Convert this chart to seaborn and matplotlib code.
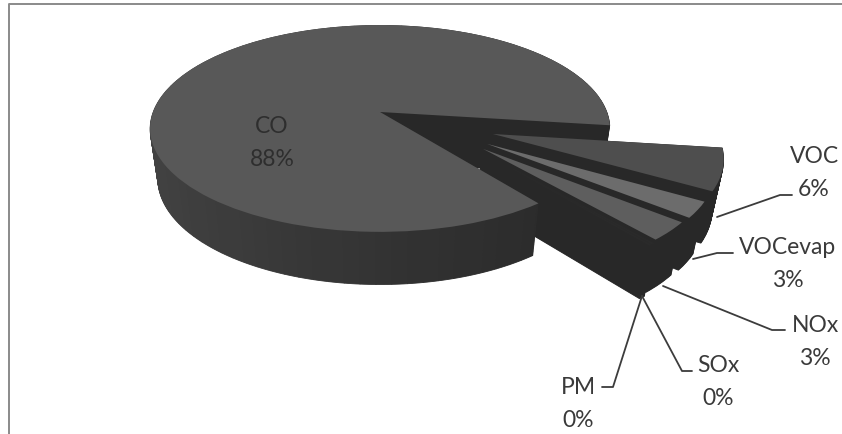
import matplotlib
matplotlib.use("Agg")
import matplotlib.pyplot as plt
import matplotlib.transforms as mtransforms
import numpy as np
import seaborn as sns

categories = ["CO", "VOC", "VOCevap", "NOx", "SOx", "PM"]
shares = [87.5, 6.49, 2.51, 3.0, 0.25, 0.25]
slice_offsets = [(0.481, -0.211), (0.449, -0.301), (0.429, -0.346),
                 (0.42, -0.37), (0.42, -0.37)]
slice_radii = [0.955, 0.935, 0.916, 0.916, 0.916]
face_colors = ["#585858", "#4e4e4e", "#6c6c6c", "#5e5e5e", "#2a2a2a", "#2a2a2a"]
side_color = "#282828"
text_color = "#3a3a3a"

# label anchors and leader lines, in picture pixels
label_pos = {"CO": (272, 143), "VOC": (814, 173), "VOCevap": (788, 264),
             "NOx": (815, 342), "SOx": (718, 382), "PM": (578, 404)}
leaders = {"VOC": [(717, 218), (780, 196), (792, 196)],
           "VOCevap": [(693, 260), (717, 254), (733, 254)],
           "NOx": [(663, 287), (772, 331), (785, 331)],
           "SOx": [(642, 297), (682, 372), (692, 372)],
           "PM": [(642, 297), (613, 388), (602, 388)]}

START = -52.4
SIDE_STRIPS = 90


class Perspective(mtransforms.Transform):
    """Tilted-disc projection of a unit pie into picture pixels."""
    input_dims = output_dims = 2
    is_separable = False
    has_inverse = False

    def __init__(self, cx, cy, a, b, k, depth):
        super().__init__()
        self.p = (cx, cy, a, b, k, depth)

    def transform_non_affine(self, values):
        cx, cy, a, b, k, depth = self.p
        v = np.asarray(values, float)
        w = 1 + k * v[:, 1]
        drop = depth / w ** 0.3
        shrink = 1 - 0.00067 * drop
        return np.column_stack([cx + a * v[:, 0] / w * shrink,
                                cy + drop - b * v[:, 1] / w])


sns.set_theme(style="white")
plt.rcParams["font.family"] = ["Lato", "DejaVu Sans"]

fig = plt.figure(figsize=(8.42, 4.35), dpi=100)
ax = fig.add_axes([0, 0, 1, 1])


def draw_layer(values, cols, depth, n_main, lw):
    wedges, _ = ax.pie(values, colors=cols, startangle=START, counterclock=False,
                       radius=1, wedgeprops=dict(linewidth=lw))
    tr = Perspective(380, 113, 227, 100.8, 0.159, depth) + ax.transData
    for i, w in enumerate(wedges):
        w.set_transform(tr)
        if lw:
            w.set_edgecolor(cols[i])
        if i >= n_main:
            w.set_radius(slice_radii[i - n_main])
            w.set_center(slice_offsets[i - n_main])


# the rim of the big slice is shaded from lighter (left) to darker (right)
strip = shares[0] / SIDE_STRIPS
mids = np.radians(START - (np.arange(SIDE_STRIPS) + 0.5) * strip * 3.6)
greys = np.interp(np.cos(mids), [-1, 0, 1], [0.26, 0.20, 0.155])
side_cols = [(g, g, g) for g in greys] + [side_color] * (len(shares) - 1)
side_vals = [strip] * SIDE_STRIPS + shares[1:]

for d in np.arange(50.0, 0.0, -0.75):
    draw_layer(side_vals, side_cols, d, SIDE_STRIPS, 0.6)
draw_layer(shares, face_colors, 0.0, 1, 0.0)

for name, pts in leaders.items():
    xs, ys = zip(*pts)
    ax.plot(xs, ys, color="#3c3c3c", lw=1.3, solid_joinstyle="round")

for name, v in zip(categories, shares):
    x, y = label_pos[name]
    ax.text(x, y, f"{name}\n{v:.0f}%", ha="center", va="center", fontsize=16.5,
            color="#2e2e2e" if name == "CO" else text_color, linespacing=1.7)

# chart frame
ax.plot([9, 9, 842], [435, 5, 5], color="#8a8a8a", lw=1.4)

ax.set_aspect("auto")
ax.set_xlim(0, 842)
ax.set_ylim(435, 0)
ax.axis("off")
fig.savefig("out.png", dpi=100, facecolor="white")
